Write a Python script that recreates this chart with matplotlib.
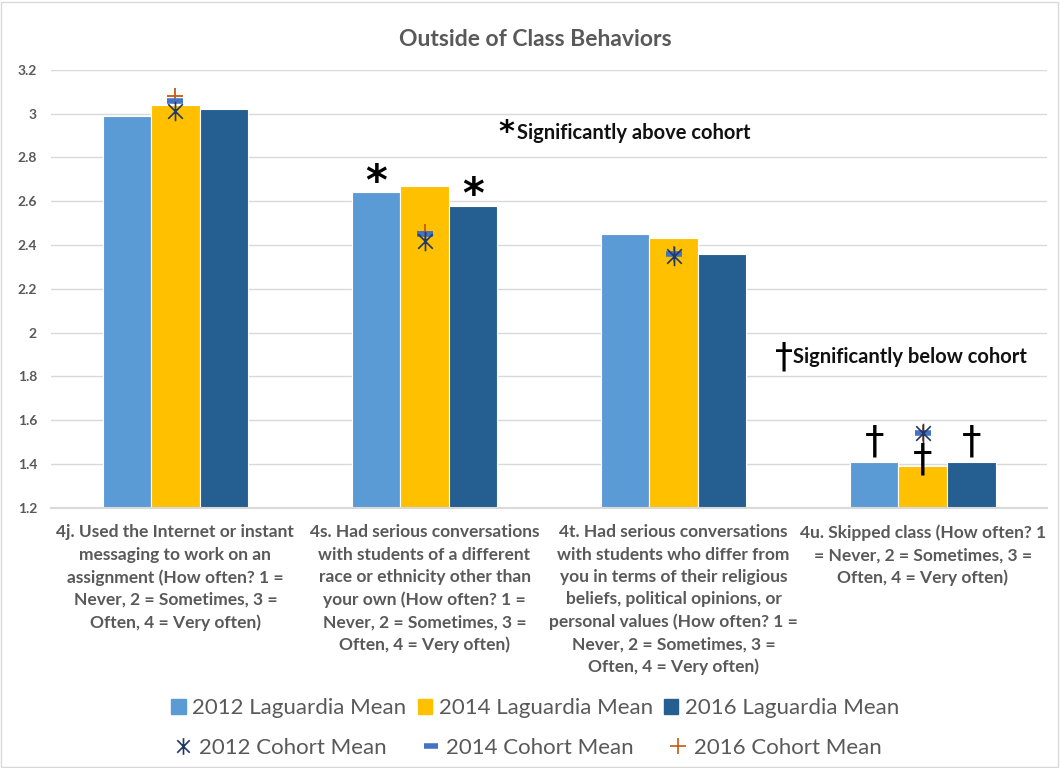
import matplotlib.pyplot as plt
import numpy as np
from matplotlib.lines import Line2D
from matplotlib.patches import Patch
from matplotlib.path import Path

plt.rcParams['font.family'] = ['Lato', 'DejaVu Sans']

categories = [
    "4j. Used the Internet or instant\nmessaging to work on an\nassignment (How often? 1 =\nNever, 2 = Sometimes, 3 =\nOften, 4 = Very often)",
    "4s. Had serious conversations\nwith students of a different\nrace or ethnicity other than\nyour own (How often? 1 =\nNever, 2 = Sometimes, 3 =\nOften, 4 = Very often)",
    "4t. Had serious conversations\nwith students who differ from\nyou in terms of their religious\nbeliefs, political opinions, or\npersonal values (How often? 1 =\nNever, 2 = Sometimes, 3 =\nOften, 4 = Very often)",
    "4u. Skipped class (How often? 1\n= Never, 2 = Sometimes, 3 =\nOften, 4 = Very often)",
]
lag_2012 = [2.99, 2.64, 2.45, 1.41]
lag_2014 = [3.04, 2.67, 2.43, 1.39]
lag_2016 = [3.02, 2.58, 2.36, 1.41]
coh_2012 = [3.01, 2.42, 2.35, 1.54]
coh_2014 = [3.06, 2.45, 2.36, 1.54]
coh_2016 = [3.08, 2.46, 2.36, 1.54]

# significance flags: (category, series index)
above = [(1, 0), (1, 2)]
below = [(3, 0), (3, 1), (3, 2)]

c12, c14, c16 = '#5B9BD5', '#FFC000', '#255E91'
text_gray = '#595959'

# X with a vertical bar, like the Excel cohort marker
star = Path([(0, -1), (0, 1), (-0.75, -0.75), (0.75, 0.75), (-0.75, 0.75), (0.75, -0.75)],
            [Path.MOVETO, Path.LINETO] * 3)

fig = plt.figure(figsize=(10.6, 7.68), dpi=100)
ax = fig.add_axes([0.048, 0.339, 0.94, 0.570])

x = np.arange(len(categories))
w = 0.195
ax.bar(x - w, lag_2012, w, color=c12, edgecolor='white', linewidth=0.8, zorder=2)
ax.bar(x, lag_2014, w, color=c14, edgecolor='white', linewidth=0.8, zorder=2)
ax.bar(x + w, lag_2016, w, color=c16, edgecolor='white', linewidth=0.8, zorder=2)

ax.plot(x, coh_2016, ls='none', marker='+', ms=12, mew=1.3, color='#C55A11', zorder=3)
ax.plot(x, coh_2014, ls='none', marker='_', ms=11, mew=4, color='#4472C4', zorder=4)
ax.plot(x, coh_2012, ls='none', marker=star, ms=14, mew=1.2, color='#1F3864', zorder=5)

series = [lag_2012, lag_2014, lag_2016]
for ci, si in above:
    ax.text(x[ci] + (si - 1) * w, series[si][ci] + 0.045, '*', ha='center', va='center',
            fontsize=30, fontweight='bold', family='DejaVu Sans', zorder=6)
for ci, si in below:
    y = series[si][ci] if si != 1 else series[si][ci] - 0.06
    ax.text(x[ci] + (si - 1) * w, y, '†', ha='center', va='bottom',
            fontsize=28, family='DejaVu Sans', zorder=6)

ax.text(1.33, 2.915, '*', ha='center', va='center', fontsize=22, fontweight='bold',
        family='DejaVu Sans')
ax.text(1.37, 2.91, 'Significantly above cohort', ha='left', va='center',
        fontsize=14.5, fontweight='bold', color='#111111')
ax.text(2.445, 1.885, '†', ha='center', va='center', fontsize=26,
        family='DejaVu Sans')
ax.text(2.48, 1.89, 'Significantly below cohort', ha='left', va='center',
        fontsize=14.5, fontweight='bold', color='#111111')

ax.set_xlim(-0.5, 3.5)
ax.set_ylim(1.2, 3.2)
ax.set_yticks(np.arange(1.2, 3.21, 0.2))
ax.set_yticklabels(['1.2', '1.4', '1.6', '1.8', '2', '2.2', '2.4', '2.6', '2.8', '3', '3.2'],
                   fontsize=10, fontweight='bold', color=text_gray)
ax.set_xticks(x)
ax.set_xticklabels(categories, fontsize=12.5, fontweight='bold', color=text_gray,
                   linespacing=1.48, va='top')
ax.tick_params(axis='x', length=0, pad=12)
ax.tick_params(axis='y', length=0, pad=10)
ax.grid(axis='y', color='#D9D9D9', linewidth=1, zorder=0)
for s in ['top', 'right', 'left']:
    ax.spines[s].set_visible(False)
ax.spines['bottom'].set_color('#D9D9D9')
ax.spines['bottom'].set_linewidth(1.5)

fig.suptitle('Outside of Class Behaviors', x=0.505, y=0.962, fontsize=16.5,
             fontweight='bold', color=text_gray)

h1 = [Patch(color=c12), Patch(color=c14), Patch(color=c16)]
l1 = ['2012 Laguardia Mean', '2014 Laguardia Mean', '2016 Laguardia Mean']
fig.legend(h1, l1, loc='center', bbox_to_anchor=(0.505, 0.078), ncol=3,
           frameon=False, fontsize=16, handlelength=0.65, handleheight=0.65,
           handletextpad=0.3, columnspacing=0.5, labelcolor=text_gray)
h2 = [Line2D([], [], ls='none', marker=star, ms=12, mew=1.2, color='#1F3864'),
      Line2D([], [], ls='none', marker='_', ms=10, mew=4, color='#4472C4'),
      Line2D([], [], ls='none', marker='+', ms=12, mew=1.2, color='#C55A11')]
l2 = ['2012 Cohort Mean', '2014 Cohort Mean', '2016 Cohort Mean']
fig.legend(h2, l2, loc='center', bbox_to_anchor=(0.498, 0.026), ncol=3,
           frameon=False, fontsize=16, handlelength=0.8, handletextpad=0.3,
           columnspacing=1.6, labelcolor=text_gray)

fig.patches.append(plt.Rectangle((0.001, 0.001), 0.997, 0.997, transform=fig.transFigure,
                                 fill=False, edgecolor='#D9D9D9', linewidth=1))

fig.savefig('out.png', dpi=100)
